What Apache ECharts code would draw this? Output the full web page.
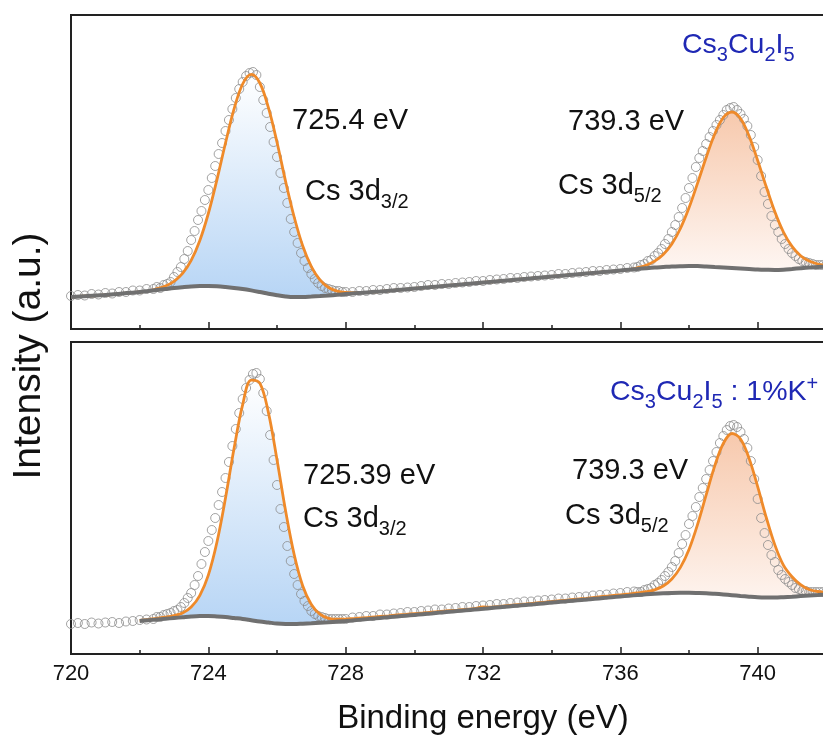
<!DOCTYPE html>
<html>
<head>
<meta charset="utf-8">
<title>Cs 3d XPS</title>
<script src="https://cdn.jsdelivr.net/npm/echarts@6/dist/echarts.min.js"></script>
<style>
html, body { margin: 0; padding: 0; background: #fff; }
#chart { width: 823px; height: 740px; }
</style>
</head>
<body>
<div id="chart"></div>
<script>
// energy grid of the fitted curves (eV)
const fitEnergy = [
  720, 720.25, 720.5, 720.75, 721, 721.25, 721.5, 721.75, 722, 722.25, 722.5, 722.75,
  723, 723.25, 723.5, 723.75, 724, 724.25, 724.5, 724.75, 725, 725.25, 725.5, 725.75,
  726, 726.25, 726.5, 726.75, 727, 727.25, 727.5, 727.75, 728, 728.25, 728.5, 728.75,
  729, 729.25, 729.5, 729.75, 730, 730.25, 730.5, 730.75, 731, 731.25, 731.5, 731.75,
  732, 732.25, 732.5, 732.75, 733, 733.25, 733.5, 733.75, 734, 734.25, 734.5, 734.75,
  735, 735.25, 735.5, 735.75, 736, 736.25, 736.5, 736.75, 737, 737.25, 737.5, 737.75,
  738, 738.25, 738.5, 738.75, 739, 739.25, 739.5, 739.75, 740, 740.25, 740.5, 740.75,
  741, 741.25, 741.5, 741.75, 742
]

// Cs3Cu2I5 (top panel), from 720 eV
const topBackground = [
  32.0, 32.5, 33.0, 33.5, 34.0, 34.7, 35.5, 36.3, 37.0, 38.0, 39.0, 40.0,
  41.0, 41.8, 42.5, 42.9, 43.0, 42.7, 42.0, 41.1, 40.0, 38.6, 37.0, 35.3,
  33.8, 32.6, 32.0, 32.0, 32.4, 32.9, 33.5, 34.2, 35.0, 35.7, 36.3, 36.9,
  37.5, 38.2, 39.0, 39.7, 40.5, 41.2, 42.0, 42.7, 43.5, 44.2, 45.0, 45.7,
  46.5, 47.2, 48.0, 48.7, 49.5, 50.2, 51.0, 51.7, 52.5, 53.2, 54.0, 54.7,
  55.5, 56.2, 57.0, 57.7, 58.5, 59.3, 60.0, 60.8, 61.5, 62.0, 62.5, 62.8,
  63.0, 62.9, 62.5, 62.0, 61.5, 61.0, 60.5, 60.0, 59.5, 59.2, 59.0, 59.3,
  60.0, 60.8, 61.5, 62.0, 62.5
]
const topPeak1Start = 722.5
const topPeak1 = [
  1.3, 3.0, 6.7, 13.8, 26.1, 45.4, 72.5, 106.5, 144, 179, 205, 216, 209,
  186, 153, 115, 80, 51, 30, 16.2, 8, 3.7, 1.6, 0.6, 0.2
]
const topPeak2Start = 736.5
const topPeak2 = [
  1.3, 3.0, 6.4, 12.5, 22.6, 37.7, 58.2, 83, 109, 133, 150, 156,
  150, 133, 109, 83, 58.2, 37.7, 22.6, 12.5, 6.4, 3.0, 1.3
]

// Cs3Cu2I5 : 1%K+ (bottom panel), from 722 eV
const botBackgroundStart = 722
const botBackground = [
  33.0, 33.75, 34.5, 35.25, 36.0, 36.75, 37.5, 37.95, 38.0, 37.6, 37.0, 36.0,
  35.0, 33.75, 32.5, 31.5, 30.5, 30.05, 30.0, 30.35, 30.8, 31.3, 31.8, 32.4,
  33.0, 33.75, 34.5, 35.25, 36.0, 36.8, 37.6, 38.35, 39.1, 39.85, 40.6, 41.4,
  42.2, 42.95, 43.7, 44.45, 45.2, 46.0, 46.8, 47.55, 48.3, 49.05, 49.8, 50.6,
  51.4, 52.15, 52.9, 53.65, 54.4, 55.2, 56.0, 56.75, 57.5, 58.25, 59.0, 59.65,
  60.2, 60.65, 61.0, 61.15, 61.2, 61.05, 60.8, 60.25, 59.6, 58.8, 58.0, 57.35,
  56.8, 56.55, 56.5, 56.85, 57.3, 57.9, 58.5, 59.0, 59.5
]
const botPeak1Start = 722
const botPeak1 = [
  0.5, 0.8, 1.2, 1.6, 2.5, 4.3, 9.5, 20.5, 40.9, 74.1, 119, 169.7, 214.4,
  240.2, 238.4, 209.9, 163.8, 113.2, 69.5, 37.7, 18.8, 8.6, 3.9, 2.4, 1.9,
  1.7, 1.6, 1.5, 1.5, 1.4, 1.4, 1.3, 1.3, 1.2, 1.2, 1.1, 1.1, 1.0, 1.0, 0.9, 0.9
]
const botPeak2Start = 732
const botPeak2 = [
  0.9, 0.9, 0.9, 1.0, 1.0, 1.0, 1.1, 1.1, 1.1, 1.2, 1.2, 1.3, 1.3, 1.4, 1.5, 1.6, 1.7,
  1.8, 2.0, 2.6, 4.0, 7.3, 14, 25.5, 43.3, 68.5, 98.3, 127.9, 151, 161.7,
  157, 138.3, 110.5, 80, 52.6, 32, 20, 11.5, 6, 3.5, 2.2
]

// measured points (open circles)
const dataEnergy = [
  720, 720.2, 720.4, 720.6, 720.8, 721, 721.2, 721.4, 721.6, 721.8, 722, 722.2, 722.4,
  722.5, 722.6, 722.7, 722.8, 722.9, 723, 723.1, 723.2, 723.3, 723.4, 723.5, 723.6,
  723.7, 723.8, 723.9, 724, 724.1, 724.2, 724.3, 724.4, 724.5, 724.6, 724.7, 724.8,
  724.9, 725, 725.1, 725.2, 725.3, 725.4, 725.5, 725.6, 725.7, 725.8, 725.9, 726,
  726.1, 726.2, 726.3, 726.4, 726.5, 726.6, 726.7, 726.8, 726.9, 727, 727.1, 727.2,
  727.3, 727.4, 727.5, 727.6, 727.7, 727.8, 727.9, 728,
  728.2, 728.4, 728.6, 728.8, 729, 729.2, 729.4, 729.6, 729.8, 730, 730.2, 730.4,
  730.6, 730.8, 731, 731.2, 731.4, 731.6, 731.8, 732, 732.2, 732.4, 732.6, 732.8,
  733, 733.2, 733.4, 733.6, 733.8, 734, 734.2, 734.4, 734.6, 734.8, 735, 735.2,
  735.4, 735.6, 735.8, 736, 736.2, 736.4,
  736.5, 736.6, 736.7, 736.8, 736.9, 737, 737.1, 737.2, 737.3, 737.4, 737.5, 737.6,
  737.7, 737.8, 737.9, 738, 738.1, 738.2, 738.3, 738.4, 738.5, 738.6, 738.7, 738.8,
  738.9, 739, 739.1, 739.2, 739.3, 739.4, 739.5, 739.6, 739.7, 739.8, 739.9, 740,
  740.1, 740.2, 740.3, 740.4, 740.5, 740.6, 740.7, 740.8, 740.9, 741, 741.1, 741.2,
  741.3, 741.4, 741.5, 741.6, 741.7, 741.8, 741.9, 742
]
const topData = [
  33, 34, 33.5, 35, 34.5, 36, 35.5, 37, 37, 38.5, 38.5, 40, 40,
  42, 41, 44, 45, 47,
  52, 57, 62, 70, 78, 89, 98, 109, 118, 129,
  139, 151, 163, 175, 186, 198, 209, 220, 231, 240,
  247, 253, 256, 257, 254, 242, 229, 216, 202, 187,
  172, 156, 141, 126, 110, 97, 86, 76, 68, 61,
  55, 50, 46, 43, 41, 40, 39, 38, 38, 37, 37,
  37, 38, 38, 39, 39, 40, 41, 41, 41.5, 42, 43, 44, 44, 45, 45, 46, 46.5, 47, 48, 48,
  49, 49.5, 50, 51, 51, 52, 52.5, 53, 53.5, 54, 55, 55, 56, 56.5, 57, 58, 58, 59, 59.5, 60,
  61, 61.5,
  62, 64, 65, 68, 69,
  73, 76, 80, 85, 90, 97, 104, 112, 121, 131,
  141, 151, 162, 171, 178, 185, 192, 198, 204, 209,
  214, 219, 221, 222, 219, 215, 210, 203, 194, 182,
  169, 153, 137, 125, 113, 104, 97, 90, 85, 80,
  76, 73, 70, 68, 67, 66, 65, 64, 64, 64, 64
]
const botData = [
  30, 31, 30, 31.5, 30.5, 31.5, 32, 31, 32.5, 33, 34, 34.5, 35,
  37, 37, 39, 40, 41,
  43, 44, 47, 51, 56, 61, 69, 78, 90, 102,
  113, 124, 136, 149, 162, 176, 192, 208, 225, 241,
  255, 266, 274, 280, 281, 275, 261, 243, 219, 194,
  169, 145, 127, 108, 93, 80, 69, 60, 53, 48,
  43, 40, 38, 37, 36, 35, 35, 35, 35, 35, 35,
  36.5, 37, 38, 38, 39.5, 39.5, 40.5, 41, 42, 42, 43, 43.5, 44.5, 44.5, 45.5, 46, 47, 47,
  48, 48.5, 49, 50, 50, 51, 51.5, 52.5, 52.5, 53.5, 54, 54.5, 55.5, 55.5, 56.5, 57, 57.5,
  58.5, 59, 59.5, 60.5, 61, 62, 62.5,
  62, 62, 64, 65, 66,
  69, 71, 74, 78, 82, 87, 93, 101, 110, 119,
  130, 138, 147, 157, 166, 175, 184, 193, 202, 211,
  218, 224, 228, 229, 227, 222, 215, 206, 193, 175,
  155, 136, 121, 109, 99, 92, 84, 79, 75, 72,
  69, 66, 65, 63, 63, 62, 62, 62, 62, 62, 62
]

const xTickLabels = [720, 724, 728, 732, 736, 740]

const FONT = '"Liberation Sans", Arial, Helvetica, sans-serif'
const TEXT = '#111111'
const BLUE = '#1f28b4'
const ORANGE = '#ef8a2a'
const GREY = '#707070'

// [energy, value] pairs along the fit grid
function segment(start, values) {
  const i0 = fitEnergy.indexOf(start)
  return values.map((v, k) => [fitEnergy[i0 + k], v])
}
function valueAt(curve, e) {
  const hit = curve.find(q => q[0] === e)
  return hit ? hit[1] : 0
}
function envelope(bg, peaks) {
  return bg.map(([e, v]) => {
    let s = v
    peaks.forEach(p => { s += valueAt(p, e) })
    return [e, s]
  })
}
function gradient(top, bottom) {
  return new echarts.graphic.LinearGradient(0, 0, 0, 1, [
    { offset: 0, color: top },
    { offset: 1, color: bottom }
  ])
}

// shaded component: area between the background and background + peak
function peakFill(i, bg, peak, colors) {
  return {
    type: 'custom', xAxisIndex: i, yAxisIndex: i, silent: true, z: 1, clip: true,
    data: [peak[Math.floor(peak.length / 2)]],
    renderItem: (params, api) => {
      const upper = peak.map(([e, v]) => api.coord([e, valueAt(bg, e) + v]))
      const lower = peak.map(([e]) => api.coord([e, valueAt(bg, e)])).reverse()
      return {
        type: 'polygon',
        shape: { points: upper.concat(lower), smooth: 0.3 },
        style: { fill: gradient(colors[0], colors[1]), stroke: null }
      }
    }
  }
}

function panelSeries(i, bg, p1, p2, data) {
  const common = { xAxisIndex: i, yAxisIndex: i, smooth: 0.35, symbol: 'none', silent: true, animation: false }
  return [
    peakFill(i, bg, p1, ['#ffffff', '#b7d5f5']),
    peakFill(i, bg, p2, ['#f7c9ad', '#fef6f2']),
    {
      type: 'scatter', xAxisIndex: i, yAxisIndex: i, silent: true, z: 2,
      data: dataEnergy.map((e, k) => [e, data[k]]),
      symbol: 'circle', symbolSize: 9,
      itemStyle: { color: 'rgba(255,255,255,0)', borderColor: '#8c8c8c', borderWidth: 1 }
    },
    Object.assign({ type: 'line', data: envelope(bg, [p1, p2]), lineStyle: { color: ORANGE, width: 2.8 }, z: 3 }, common),
    Object.assign({ type: 'line', data: bg, lineStyle: { color: GREY, width: 4 }, z: 4 }, common)
  ]
}

const topBg = segment(720, topBackground)
const botBg = segment(botBackgroundStart, botBackground)

function xAxisFor(i, labels) {
  return {
    type: 'value', gridIndex: i, min: 720, max: 744, interval: 4,
    axisLine: { show: true, onZero: false, lineStyle: { color: '#222', width: 2 } },
    axisTick: { show: true, inside: true, length: 7, lineStyle: { color: '#222', width: 1.5 } },
    minorTick: { show: true, splitNumber: 2, length: 4, lineStyle: { color: '#222', width: 1.5 } },
    splitLine: { show: false },
    minorSplitLine: { show: false },
    axisLabel: {
      show: labels, margin: 9, fontSize: 22, color: TEXT, fontFamily: FONT,
      formatter: v => (xTickLabels.indexOf(v) >= 0 ? String(v) : '')
    },
    name: labels ? 'Binding energy (eV)' : '',
    nameLocation: 'middle', nameGap: 48,
    nameTextStyle: { fontSize: 33, color: TEXT, fontFamily: FONT }
  }
}
function yAxisFor(i, max) {
  return {
    type: 'value', gridIndex: i, min: 0, max: max,
    axisLine: { show: false }, axisTick: { show: false }, axisLabel: { show: false }, splitLine: { show: false }
  }
}

// text with sub / superscripts, laid out piece by piece
const measure = document.createElement('canvas').getContext('2d')
function textWidth(s, size) {
  measure.font = size + 'px ' + FONT
  return measure.measureText(s).width
}
function label(x, y, parts, size, color) {
  const small = Math.round(size * 0.69)
  let cx = 0
  const children = parts.map(([t, kind]) => {
    const fs = kind ? small : size
    const dy = kind === 'sub' ? 10 : kind === 'sup' ? -8 : 0
    const el = {
      type: 'text', x: cx, y: dy,
      style: {
        text: t, fontSize: fs, fontFamily: FONT, fill: color,
        align: 'left', verticalAlign: 'middle', textAlign: 'left', textVerticalAlign: 'middle'
      }
    }
    cx += textWidth(t, fs)
    return el
  })
  return { type: 'group', x: x, y: y, silent: true, children: children }
}

const chart = echarts.init(document.getElementById('chart'), null, { renderer: 'canvas' })
chart.setOption({
  animation: false,
  backgroundColor: '#ffffff',
  grid: [
    { left: 71, top: 15, right: -72, height: 314, show: true, borderColor: '#222', borderWidth: 2, backgroundColor: 'transparent', outerBoundsMode: 'none', containLabel: false },
    { left: 71, top: 342, right: -72, height: 312, show: true, borderColor: '#222', borderWidth: 2, backgroundColor: 'transparent', outerBoundsMode: 'none', containLabel: false }
  ],
  xAxis: [xAxisFor(0, false), xAxisFor(1, true)],
  yAxis: [yAxisFor(0, 314), yAxisFor(1, 312)],
  series: [
    ...panelSeries(0, topBg, segment(topPeak1Start, topPeak1), segment(topPeak2Start, topPeak2), topData),
    ...panelSeries(1, botBg, segment(botPeak1Start, botPeak1), segment(botPeak2Start, botPeak2), botData)
  ],
  graphic: [
    label(292, 121, [['725.4 eV']], 29, TEXT),
    label(305, 192, [['Cs 3d'], ['3/2', 'sub']], 29, TEXT),
    label(568, 122, [['739.3 eV']], 29, TEXT),
    label(558, 186, [['Cs 3d'], ['5/2', 'sub']], 29, TEXT),
    label(682, 45, [['Cs'], ['3', 'sub'], ['Cu'], ['2', 'sub'], ['I'], ['5', 'sub']], 28.5, BLUE),
    label(303, 476, [['725.39 eV']], 29, TEXT),
    label(303, 519, [['Cs 3d'], ['3/2', 'sub']], 29, TEXT),
    label(572, 471, [['739.3 eV']], 29, TEXT),
    label(565, 516, [['Cs 3d'], ['5/2', 'sub']], 29, TEXT),
    label(610, 392, [['Cs'], ['3', 'sub'], ['Cu'], ['2', 'sub'], ['I'], ['5', 'sub'], [' : 1%K'], ['+', 'sup']], 28.5, BLUE),
    {
      type: 'text', x: 29, y: 356, rotation: Math.PI / 2, silent: true,
      style: {
        text: 'Intensity (a.u.)', fontSize: 39, fontFamily: FONT, fill: TEXT,
        align: 'center', verticalAlign: 'middle', textAlign: 'center', textVerticalAlign: 'middle'
      }
    }
  ]
})
</script>
</body>
</html>
